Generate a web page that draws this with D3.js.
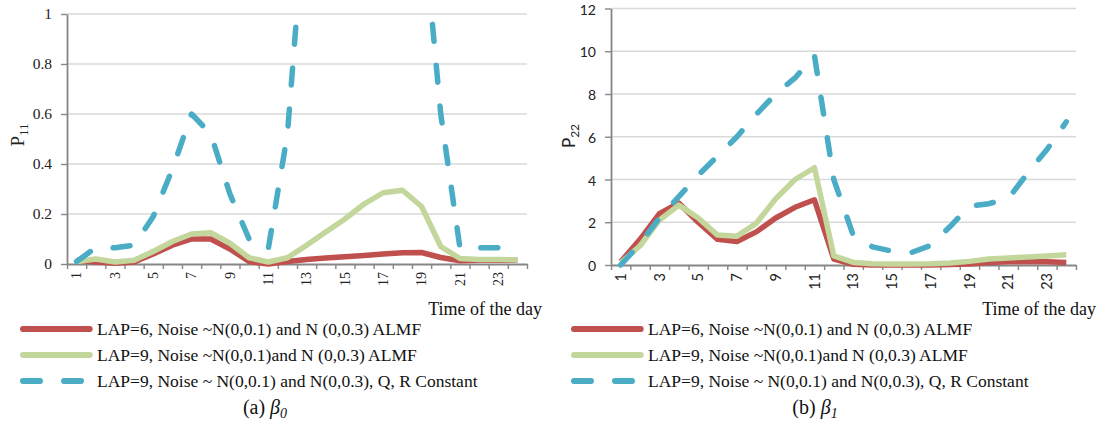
<!DOCTYPE html>
<html>
<head>
<meta charset="utf-8">
<script src="https://cdn.jsdelivr.net/npm/d3@7"></script>
<style>
  html, body { margin: 0; padding: 0; background: #fff; }
  svg { display: block; }
</style>
</head>
<body>
<svg id="chart" width="1101" height="427"></svg>
<script>
// Hour of the day (categories) and the labelled subset shown on the x axis
const hours = [1, 2, 3, 4, 5, 6, 7, 8, 9, 10, 11, 12, 13, 14, 15, 16, 17, 18, 19, 20, 21, 22, 23, 24];
const labelledHours = [1, 3, 5, 7, 9, 11, 13, 15, 17, 19, 21, 23];

// Tick values for the two y axes
const p11Ticks = [0, 0.2, 0.4, 0.6, 0.8, 1];
const p22Ticks = [0, 2, 4, 6, 8, 10, 12];

// Legend entries (same for both panels)
const seriesNames = [
  "LAP=6, Noise ~N(0,0.1) and N (0,0.3) ALMF",
  "LAP=9, Noise ~N(0,0.1)and N (0,0.3) ALMF",
  "LAP=9, Noise ~ N(0,0.1) and N(0,0.3), Q, R Constant"
];

// (a) beta_0 : P11 per hour
const p11Lap6  = [0.015, 0.008, 0.003, 0.008, 0.04, 0.075, 0.1, 0.1, 0.06, 0.01, 0.0, 0.01, 0.018, 0.024, 0.029, 0.034, 0.04, 0.045, 0.046, 0.026, 0.013, 0.015, 0.016, 0.015];
const p11Lap9  = [0.01, 0.02, 0.008, 0.015, 0.05, 0.09, 0.12, 0.125, 0.083, 0.025, 0.008, 0.025, 0.075, 0.128, 0.18, 0.24, 0.285, 0.295, 0.23, 0.07, 0.022, 0.018, 0.018, 0.016];
const p11Const = [0.01, 0.065, 0.065, 0.075, 0.19, 0.38, 0.6, 0.52, 0.28, 0.1, 0.06, 0.52, 1.5, 2.2, 2.7, 3.0, 3.1, 2.9, 1.43, 0.6, 0.065, 0.065, 0.065, 0.065];

// (b) beta_1 : P22 per hour
const p22Lap6  = [0.15, 1.2, 2.4, 2.9, 2.0, 1.2, 1.1, 1.55, 2.2, 2.7, 3.05, 0.28, 0.03, 0.0, 0.0, 0.0, 0.0, 0.02, 0.05, 0.12, 0.15, 0.15, 0.15, 0.12];
const p22Lap9  = [0.1, 0.9, 2.1, 2.8, 2.2, 1.4, 1.35, 1.95, 3.1, 4.0, 4.55, 0.43, 0.12, 0.06, 0.05, 0.05, 0.06, 0.09, 0.17, 0.28, 0.33, 0.37, 0.42, 0.48];
const p22Const = [0.0, 1.0, 2.2, 3.2, 4.2, 5.1, 6.0, 7.05, 8.0, 8.75, 9.8, 4.0, 1.4, 0.85, 0.65, 0.58, 0.92, 1.8, 2.75, 2.87, 3.1, 4.3, 5.4, 6.7];

const SERIF = "'Liberation Serif', 'Times New Roman', serif";
const SANS = "Lato, 'Open Sans', sans-serif";
const COLORS = ["#C0504D", "#C3D69B", "#4BACC6"];
const DASHES = [null, null, "17,24"];
const AXIS = "#868686";
const GRID = "#d9d9d9";

const svg = d3.select("#chart");

function drawPanel(o) {
  const g = svg.append("g");

  const x = d3.scaleBand().domain(hours).range([o.left, o.right]).padding(0);
  const xEdge = d3.scaleLinear().domain([0, hours.length]).range([o.left, o.right]);
  const y = d3.scaleLinear().domain([0, o.yTicks[o.yTicks.length - 1]]).range([o.bottom, o.top]);

  // horizontal gridlines
  g.append("g").selectAll("line")
    .data(o.yTicks.filter(d => d > 0))
    .join("line")
    .attr("x1", o.left).attr("x2", o.right)
    .attr("y1", d => y(d)).attr("y2", d => y(d))
    .attr("stroke", GRID).attr("stroke-width", 1.6);

  // y axis
  const ya = g.append("g")
    .attr("transform", `translate(${o.left},0)`)
    .call(d3.axisLeft(y).tickValues(o.yTicks).tickSize(6).tickSizeOuter(0).tickPadding(o.yPad).tickFormat(o.yFormat));
  ya.select(".domain").attr("stroke", AXIS).attr("stroke-width", 1.8);
  ya.selectAll(".tick line").attr("stroke", AXIS).attr("stroke-width", 1.4);
  ya.selectAll(".tick text")
    .attr("fill", "#222").attr("font-family", o.tickFont).attr("font-size", o.yFontSize)
    .attr("dy", o.yDy);

  // x axis: tick marks between categories
  const xa = g.append("g")
    .attr("transform", `translate(0,${o.bottom})`)
    .call(d3.axisBottom(xEdge).tickValues(d3.range(0, hours.length + 1)).tickSize(5).tickSizeOuter(0).tickFormat(""));
  xa.select(".domain").attr("stroke", AXIS).attr("stroke-width", 1.8);
  xa.selectAll(".tick line").attr("stroke", AXIS).attr("stroke-width", 1.4);

  // rotated hour labels
  g.append("g").selectAll("text")
    .data(labelledHours)
    .join("text")
    .attr("transform", d => `translate(${x(d) + x.bandwidth() / 2},${o.bottom + 8}) rotate(-90)`)
    .attr("text-anchor", "end")
    .attr("dy", "0.35em")
    .attr("font-family", o.tickFont)
    .attr("font-size", o.xFontSize)
    .attr("fill", "#222")
    .text(d => d);

  // y axis title with subscript
  const yt = g.append("text")
    .attr("transform", `translate(${o.titleX},${o.titleY}) rotate(-90)`)
    .attr("text-anchor", "middle")
    .attr("font-family", o.tickFont)
    .attr("fill", "#222");
  yt.append("tspan").attr("font-size", o.titleSize).text("P");
  yt.append("tspan").attr("font-size", o.subSize).attr("dy", 4).text(o.titleSub);

  // series lines, clipped to the plot area
  const clipId = "clip-" + o.id;
  svg.append("clipPath").attr("id", clipId)
    .append("rect")
    .attr("x", o.left).attr("y", o.top)
    .attr("width", o.right - o.left).attr("height", o.bottom - o.top + 10);

  const line = d3.line()
    .x((d, i) => x(hours[i]) + x.bandwidth() / 2)
    .y(d => y(d));

  const lines = g.append("g").attr("clip-path", `url(#${clipId})`);
  o.series.forEach((s, k) => {
    lines.append("path")
      .datum(s)
      .attr("d", line)
      .attr("fill", "none")
      .attr("stroke", COLORS[k])
      .attr("stroke-width", 5.5)
      .attr("stroke-linejoin", "round")
      .attr("stroke-linecap", DASHES[k] ? "round" : "butt")
      .attr("stroke-dasharray", DASHES[k]);
  });

  // x axis title
  g.append("text")
    .attr("x", o.xTitleRight).attr("y", 315)
    .attr("text-anchor", "end")
    .attr("font-family", SERIF).attr("font-size", 18).attr("fill", "#111")
    .text("Time of the day");

  // legend
  const legendRows = [329, 355, 381];
  const lg = g.append("g");
  seriesNames.forEach((name, k) => {
    lg.append("line")
      .attr("x1", o.legendX).attr("x2", o.legendX + 66.7)
      .attr("y1", legendRows[k]).attr("y2", legendRows[k])
      .attr("stroke", COLORS[k]).attr("stroke-width", 6)
      .attr("stroke-linecap", "round")
      .attr("stroke-dasharray", DASHES[k]);
    lg.append("text")
      .attr("x", o.legendX + 74).attr("y", legendRows[k])
      .attr("dy", "0.35em")
      .attr("font-family", SERIF).attr("font-size", 17.5).attr("fill", "#111")
      .text(name);
  });

  // panel caption
  const cap = g.append("text")
    .attr("x", o.captionX).attr("y", 414)
    .attr("text-anchor", "middle")
    .attr("font-family", SERIF).attr("font-size", 20).attr("fill", "#111");
  cap.append("tspan").text(o.captionLetter + " ");
  cap.append("tspan").attr("font-style", "italic").text("β");
  cap.append("tspan").attr("font-style", "italic").attr("font-size", 14).attr("dy", 4).text(o.captionSub);
}

drawPanel({
  id: "a",
  left: 67, right: 527, top: 14, bottom: 264,
  yTicks: p11Ticks,
  yFormat: d => d === 0 ? "0" : (d === 1 ? "1" : d3.format(".1f")(d)),
  yPad: 9, yFontSize: 15.5, yDy: "0.32em", xFontSize: 14,
  tickFont: SERIF,
  titleX: 24, titleY: 135, titleSize: 19, subSize: 13, titleSub: "11",
  series: [p11Lap6, p11Lap9, p11Const],
  xTitleRight: 542,
  legendX: 23,
  captionX: 265, captionLetter: "(a)", captionSub: "0"
});

drawPanel({
  id: "b",
  left: 611, right: 1076, top: 8.5, bottom: 265,
  yTicks: p22Ticks,
  yFormat: d3.format("d"),
  yPad: 9, yFontSize: 14, yDy: "0.4em", xFontSize: 14.5,
  tickFont: SANS,
  titleX: 575, titleY: 136, titleSize: 17, subSize: 12, titleSub: "22",
  series: [p22Lap6, p22Lap9, p22Const],
  xTitleRight: 1096,
  legendX: 574,
  captionX: 815, captionLetter: "(b)", captionSub: "1"
});
</script>
</body>
</html>
